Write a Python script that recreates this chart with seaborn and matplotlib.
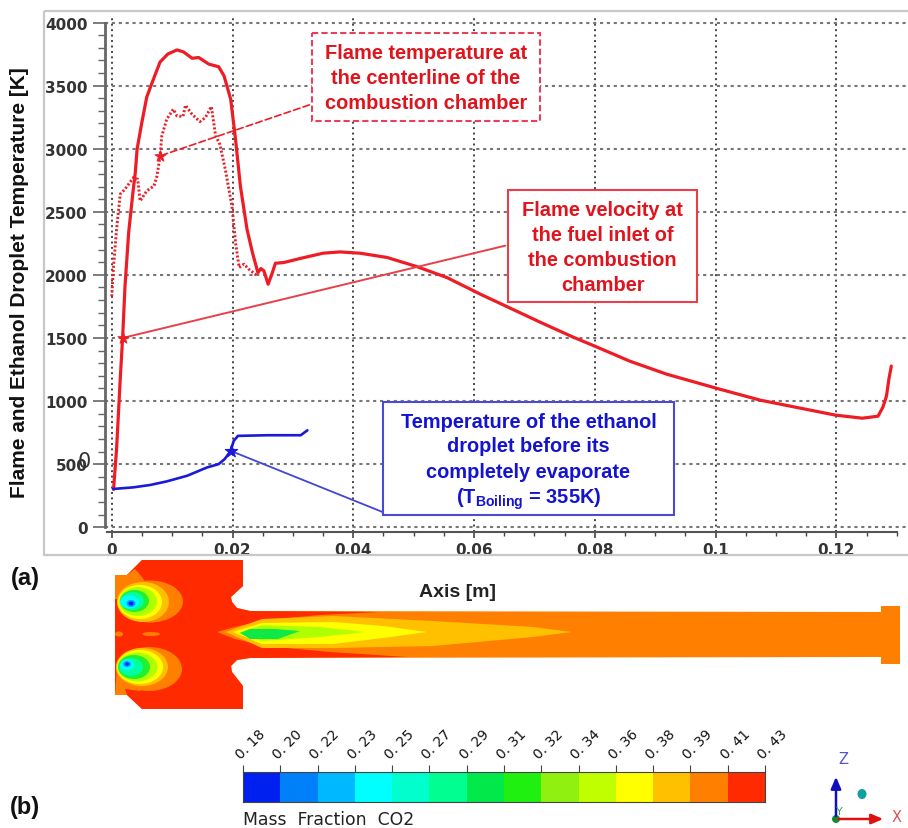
import numpy as np
import seaborn as sns
import matplotlib.pyplot as plt
from matplotlib.colors import ListedColormap
from matplotlib.patches import Rectangle, Ellipse, Polygon
from matplotlib.ticker import MultipleLocator

# centerline flame temperature (solid red)
solid_x = [0.0003, 0.0008, 0.0014, 0.0018, 0.0022, 0.0028, 0.0035, 0.0039, 0.0042, 0.0050, 0.0058,
           0.0066, 0.0080, 0.0093, 0.0108, 0.0119, 0.0133, 0.0144, 0.0161, 0.0177, 0.0186, 0.0197,
           0.0205, 0.0213, 0.0224, 0.0233, 0.0242, 0.0247, 0.0252, 0.0259, 0.0266, 0.0271, 0.0285,
           0.0312, 0.0350, 0.0378, 0.0411, 0.0456, 0.0505, 0.0555, 0.0610, 0.0665, 0.0709, 0.0764,
           0.0800, 0.0858, 0.0919, 0.1007, 0.1074, 0.1140, 0.1199, 0.1243, 0.1269, 0.1277, 0.1283,
           0.1287, 0.1291]
solid_y = [300, 620, 1170, 1500, 1913, 2335, 2650, 2810, 2997, 3212, 3410,
           3513, 3687, 3751, 3783, 3767, 3717, 3723, 3670, 3650, 3577, 3392,
           3075, 2705, 2362, 2177, 2018, 2050, 2032, 1926, 2018, 2092, 2098,
           2130, 2172, 2182, 2172, 2138, 2066, 1979, 1848, 1725, 1626, 1507,
           1435, 1316, 1213, 1094, 1007, 944, 888, 864, 880, 951, 1039,
           1174, 1277]

# fuel inlet curve (dotted red)
dotted_x = [0.0, 0.0003, 0.0008, 0.0014, 0.0022, 0.0036, 0.0043, 0.0047, 0.0058, 0.0070, 0.0075,
            0.0080, 0.0083, 0.0091, 0.0102, 0.0108, 0.0118, 0.0122, 0.0133, 0.0146, 0.0155, 0.0165,
            0.0172, 0.0179, 0.0188, 0.0199, 0.0205, 0.0211, 0.0219, 0.0227, 0.0241]
dotted_y = [1830, 2070, 2362, 2640, 2680, 2772, 2758, 2586, 2666, 2705, 2785,
            2943, 3102, 3234, 3313, 3260, 3255, 3345, 3273, 3215, 3247, 3334,
            3102, 3035, 2838, 2547, 2256, 2058, 2085, 2045, 1992]

# ethanol droplet (blue)
droplet_x = [0.0002, 0.0036, 0.0064, 0.0091, 0.0125, 0.0158, 0.0177, 0.0187, 0.0197, 0.0202, 0.0209,
             0.0258, 0.0313, 0.0324]
droplet_y = [303, 316, 335, 363, 408, 474, 500, 540, 605, 684, 724, 729, 729, 768]

x_ticks = [0, 0.02, 0.04, 0.06, 0.08, 0.1, 0.12]
x_labels = ['0', '0.02', '0.04', '0.06', '0.08', '0.1', '0.12']
y_ticks = [0, 500, 1000, 1500, 2000, 2500, 3000, 3500, 4000]

# colour scale of the CO2 field
scale_labels = ['0. 18', '0. 20', '0. 22', '0. 23', '0. 25', '0. 27', '0. 29', '0. 31',
                '0. 32', '0. 34', '0. 36', '0. 38', '0. 39', '0. 41', '0. 43']
scale_colors = ['#0020f0', '#0080f8', '#00b8ff', '#00ffff', '#00ffcc', '#00ff90', '#00e84a',
                '#20f010', '#90f010', '#c0ff00', '#ffff00', '#ffc000', '#ff8000', '#ff2a00']

RED = '#ee1c25'
RED_TXT = '#e0141c'
BLUE = '#1a1ad8'
BLUE_TXT = '#1414d0'

sns.set_style('white')
plt.rcParams['font.family'] = ['Liberation Sans', 'DejaVu Sans']
plt.rcParams['mathtext.fontset'] = 'custom'
plt.rcParams['mathtext.bf'] = 'Liberation Sans:bold'

fig = plt.figure(figsize=(9.08, 8.29), dpi=100)
W, H = 908, 829

# ---- main plot ----
ax = fig.add_axes([104.5 / W, 1 - 533 / H, 802.5 / W, 516 / H])
ax.set_xlim(-0.0012, 0.1317)
ax.set_ylim(-38, 4052)
ax.set_axisbelow(True)
ax.set_xticks(x_ticks)
ax.set_xticklabels(x_labels, fontfamily='DejaVu Sans', fontweight='bold', fontsize=11, color='#333333')
ax.set_yticks(y_ticks)
ax.set_yticklabels(y_ticks, fontfamily='DejaVu Sans', fontweight='bold', fontsize=11, color='#333333')
ax.xaxis.set_minor_locator(MultipleLocator(0.005))
ax.yaxis.set_minor_locator(MultipleLocator(100))
ax.tick_params(axis='y', which='major', left=True, length=9, width=1.2, color='#666666', pad=3)
ax.tick_params(axis='y', which='minor', left=True, length=5, width=1, color='#666666')
ax.tick_params(axis='x', which='major', bottom=True, length=4, width=1.2, color='#444444', pad=3)
ax.tick_params(axis='x', which='minor', bottom=True, length=3, width=1, color='#444444')
ax.grid(True, axis='y', color='#777777', linestyle=(0, (1.5, 1.8)), linewidth=1.5)
ax.grid(True, axis='x', color='#444444', linestyle=(0, (1, 1.8)), linewidth=1.4)

for s in ['top', 'right']:
    ax.spines[s].set_visible(False)
ax.spines['left'].set_bounds(0, 4000)
ax.spines['left'].set_color('#666666')
ax.spines['left'].set_linewidth(2)
ax.spines['bottom'].set_bounds(-0.0008, 0.13)
ax.spines['bottom'].set_color('#555555')
ax.spines['bottom'].set_linewidth(1.5)

sns.lineplot(x=dotted_x, y=dotted_y, sort=False, estimator=None, color=RED, linewidth=2.1,
             linestyle=(0, (0.7, 0.7)), ax=ax)
sns.lineplot(x=solid_x, y=solid_y, sort=False, estimator=None, color=RED, linewidth=2.3, ax=ax)
sns.lineplot(x=droplet_x, y=droplet_y, sort=False, estimator=None, color=BLUE, linewidth=1.9, ax=ax)

ax.set_ylabel('Flame and Ethanol Droplet Temperature [K]', fontsize=15, fontweight='bold', color='#111111',
              va='center')
ax.yaxis.set_label_coords(-0.1065, 0.486)
ax.set_xlabel('Axis [m]', fontsize=14, fontweight='bold', color='#222222')
ax.xaxis.set_label_coords(0.44, -0.099)

# ---- overlay in picture pixels: frame, callouts, CO2 field ----
ov = fig.add_axes([0, 0, 1, 1], zorder=5)
ov.set_xlim(0, W)
ov.set_ylim(H, 0)
ov.axis('off')
ov.patch.set_alpha(0)

ov.add_patch(Rectangle((44, 11.5), 880, 544.5, fill=False, ec='#c8c8c8', lw=1.6))
ov.text(84, 462, '0', fontsize=15, ha='center', va='center', color='#333333', fontfamily='DejaVu Sans')

# leaders go from a point on a curve to a box corner
ax.annotate('', xy=(0.008, 2943), xytext=(312, 105), textcoords=ov.transData,
            arrowprops=dict(arrowstyle='-', color=RED, lw=1.2, linestyle=(0, (4, 2))))
ax.annotate('', xy=(0.0018, 1500), xytext=(508, 246), textcoords=ov.transData,
            arrowprops=dict(arrowstyle='-', color='#e8404a', lw=1.4))
ax.annotate('', xy=(0.0197, 605), xytext=(385, 514), textcoords=ov.transData,
            arrowprops=dict(arrowstyle='-', color='#4444d8', lw=1.3))
sns.scatterplot(x=[0.008, 0.0018], y=[2943, 1500], marker='*', s=70, color=RED, edgecolor=RED, ax=ax, zorder=6)
sns.scatterplot(x=[0.0197], y=[605], marker='*', s=90, color=BLUE, edgecolor=BLUE, ax=ax, zorder=6)


def callout(x0, y0, x1, y1, lines, ys, edge, color, style='-'):
    ov.add_patch(Rectangle((x0, y0), x1 - x0, y1 - y0, fc='white', ec=edge, lw=1.5, linestyle=style))
    for line, y in zip(lines, ys):
        ov.text((x0 + x1) / 2, y, line, color=color, fontsize=14.4, fontweight='bold', ha='center', va='center')


callout(312, 34, 540, 122, ['Flame temperature at', 'the centerline of the', 'combustion chamber'],
        [53, 78, 103], '#e8405a', RED_TXT, (0, (3, 1.5)))
callout(508, 191, 697, 303, ['Flame velocity at', 'the fuel inlet of', 'the combustion', 'chamber'],
        [210, 235, 260, 285], '#e8404a', RED_TXT)
callout(383, 403, 674, 516, ['Temperature of the ethanol', 'droplet before its', 'completely evaporate',
                             r'(T$_{\mathbf{Boiling}}$ = 355K)'],
        [422, 447, 472, 499], '#4a4ad8', BLUE_TXT)

ov.text(25, 578, '(a)', fontsize=17, fontweight='bold', ha='center', va='center', color='#111111')
ov.text(25, 808, '(b)', fontsize=17, fontweight='bold', ha='center', va='center', color='#111111')

# CO2 field, contour bands traced by eye
ORANGE, AMBER, YELLOW, LIME, GREEN, TEAL, CYAN, AZURE, DEEP, FIRE = (
    '#ff8000', '#ffc000', '#ffff00', '#b0ff00', '#20f030', '#00ffa0', '#00ffff', '#00a0ff', '#0020f0', '#ff2a00')

outline = [(115, 576), (127, 576), (142, 561), (243, 561), (243, 587), (231, 598), (232, 603), (237, 609),
           (250, 612), (881, 613), (881, 607), (900, 607), (900, 665), (881, 665), (881, 658), (250, 659),
           (237, 661), (231, 667), (232, 673), (243, 687), (243, 710), (142, 710), (127, 696), (115, 696)]
hot_zone = [(115, 576), (127, 576), (142, 561), (243, 561), (243, 587), (231, 598), (232, 603), (237, 609),
            (250, 612), (380, 613), (320, 616), (265, 621), (235, 628), (217, 633), (235, 640), (265, 647),
            (330, 653), (407, 658), (250, 659), (237, 661), (231, 667), (232, 673), (243, 687), (243, 710),
            (142, 710), (127, 696), (115, 696)]
top_wall = [(115, 576), (127, 576), (135, 570), (142, 578), (150, 590), (125, 600), (115, 600)]
low_wall = [(115, 696), (127, 696), (125, 690), (140, 692), (150, 680), (125, 665), (117, 667)]
jet_bands = [
    (AMBER, [(226, 633), (262, 620), (333, 617), (433, 622), (533, 628), (572, 633), (533, 638), (433, 647),
             (333, 649), (262, 649)]),
    (YELLOW, [(233, 633), (262, 624), (333, 623), (383, 627), (427, 633), (383, 639), (333, 645), (262, 645)]),
    (LIME, [(238, 634), (262, 626), (320, 628), (365, 633), (320, 638), (262, 642)]),
    ('#10e848', [(240, 634), (250, 630), (275, 630), (300, 632), (278, 640), (250, 640)]),
]
top_spots = [(ORANGE, 150, 602.5, 66, 42), (AMBER, 143, 603, 52, 40), (YELLOW, 140, 603, 44, 34),
             (LIME, 138, 602.5, 38, 29), (GREEN, 134.5, 602, 29, 22), (TEAL, 132.5, 602, 23, 18),
             (CYAN, 129.5, 603, 19, 13), (AZURE, 131, 604.5, 9, 7), (DEEP, 131, 604.5, 5, 4)]
low_spots = [(ORANGE, 149, 670, 66, 44), (AMBER, 142, 668, 52, 38), (YELLOW, 140, 668, 46, 34),
             (LIME, 137.5, 668, 40, 29), (GREEN, 134, 668, 32, 24), (TEAL, 131, 668, 24, 18),
             (CYAN, 127, 666, 14, 11), (AZURE, 127, 665, 8, 6), (DEEP, 127, 665, 4, 3)]
side_spots = [(ORANGE, 119, 635, 8, 5), (ORANGE, 151, 635, 18, 4)]

ov.add_patch(Polygon(outline, fc=ORANGE, ec='none'))
ov.add_patch(Polygon(hot_zone, fc=FIRE, ec='none'))
ov.add_patch(Polygon(top_wall, fc=ORANGE, ec='none'))
ov.add_patch(Polygon(low_wall, fc=ORANGE, ec='none'))
for color, pts in jet_bands:
    ov.add_patch(Polygon(pts, fc=color, ec='none'))
for color, cx, cy, w, h in top_spots + low_spots + side_spots:
    ov.add_patch(Ellipse((cx, cy), w, h, fc=color, ec='none'))

# coordinate triad
ov.annotate('', xy=(836, 775), xytext=(836, 820),
            arrowprops=dict(arrowstyle='-|>,head_width=0.3,head_length=0.7', color='#1010c0', lw=1.8))
ov.annotate('', xy=(886, 820), xytext=(836, 820),
            arrowprops=dict(arrowstyle='-|>,head_width=0.3,head_length=0.7', color='#e01010', lw=1.8))
ov.add_patch(Ellipse((836, 820), 8, 8, fc='#1a8a30', ec='none'))
ov.add_patch(Ellipse((862, 795), 9, 10, fc='#10a0a0', ec='none'))
ov.text(843, 760, 'Z', fontsize=10.5, color='#5555cc', ha='center', va='center', fontfamily='DejaVu Sans')
ov.text(897, 818, 'X', fontsize=10.5, color='#e05050', ha='center', va='center', fontfamily='DejaVu Sans')
ov.text(839, 812, 'Y', fontsize=8, color='#30a050', ha='center', va='center', fontfamily='DejaVu Sans')

# ---- colour bar ----
cax = fig.add_axes([243 / W, 1 - 803 / H, 522 / W, 30 / H], zorder=6)
sns.heatmap([list(range(len(scale_colors)))], cmap=ListedColormap(scale_colors), cbar=False, ax=cax,
            xticklabels=False, yticklabels=False, linewidths=0)
cax.set_xticks(np.arange(len(scale_labels)))
cax.set_xticklabels(scale_labels, rotation=45, ha='left', va='bottom', rotation_mode='anchor',
                    fontfamily='DejaVu Sans', fontsize=10, color='#111111')
cax.tick_params(axis='x', bottom=False, top=True, labelbottom=False, labeltop=True, length=5, width=0.8,
                color='#444444', pad=3)
for s in cax.spines.values():
    s.set_visible(True)
    s.set_color('#444444')
    s.set_linewidth(0.8)
ov.text(243, 820, 'Mass  Fraction  CO2', fontsize=12.4, color='#222222', ha='left', va='center',
        fontfamily='DejaVu Sans')

fig.savefig('out.png', dpi=100)
